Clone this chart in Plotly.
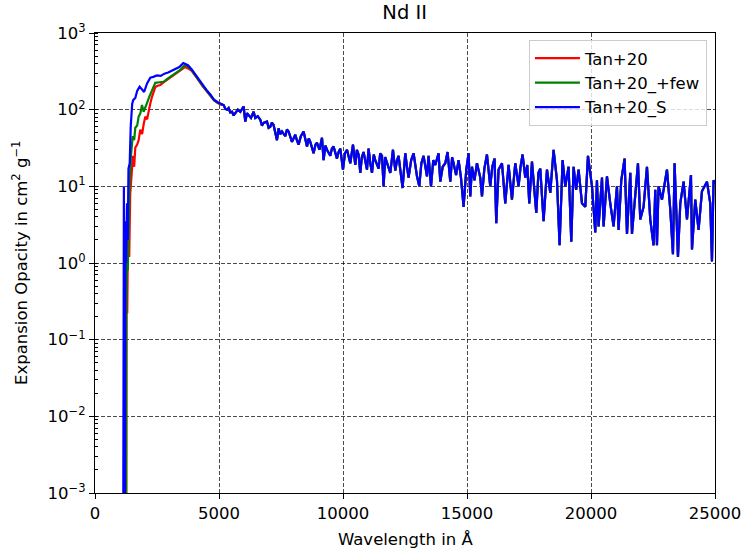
import plotly.graph_objects as go

# ---- data (wavelength in Angstrom, opacity in cm^2/g) ----
red_head_wl = [1180, 1255, 1270, 1300, 1330, 1380, 1420, 1470, 1530, 1580, 1625, 1700, 1760, 1826,
               1900, 1960, 2028, 2100, 2161, 2230, 2298, 2370, 2431, 2530, 2633, 2750, 2903, 3050,
               3200, 3306, 3450, 3560, 3641, 3750, 3900, 4050, 4200, 4350, 4500, 4650, 4800, 4950, 5100]
red_head_val = [1e-5, 1e-5, 0.35, 0.22, 2.7, 1.2, 8, 15, 25, 18, 32, 35, 40, 55,
                48, 64, 81, 75, 100, 120, 147, 175, 197, 205, 210, 225, 245, 265,
                285, 302, 330, 350, 361, 345, 320, 275, 232, 200, 175, 153, 132, 122, 115]

green_head_wl = [1200, 1250, 1265, 1290, 1320, 1350, 1395, 1450, 1520, 1580, 1625, 1700, 1760, 1830,
                 1895, 1960, 2030, 2096, 2200, 2298, 2431, 2600, 2767, 2900, 3036, 3250, 3439, 3560,
                 3641, 3750, 3900, 4050, 4200, 4350, 4500, 4650, 4800, 4950, 5100]
green_head_val = [1e-5, 1e-5, 0.32, 1.4, 0.8, 4, 11, 25, 45, 40, 58, 62, 81, 90,
                  115, 94, 110, 122, 150, 181, 224, 228, 230, 250, 268, 300, 330, 365,
                  383, 365, 327, 280, 236, 203, 178, 155, 133, 123, 116]

blue_head_wl = [1130, 1165, 1195, 1225, 1255, 1290, 1320, 1350, 1400, 1440, 1500, 1545, 1625, 1700,
                1800, 1900, 1980, 2100, 2230, 2350, 2500, 2650, 2800, 2950, 3100, 3250, 3400, 3560,
                3650, 3750, 3900, 4050, 4200, 4350, 4500, 4650, 4800, 4950, 5100]
blue_head_val = [1e-5, 10, 1e-5, 3.5, 1.0, 6, 2, 17, 20, 60, 120, 134, 142, 175,
                 200, 185, 170, 220, 262, 268, 280, 276, 295, 305, 325, 345, 360, 405,
                 395, 380, 335, 285, 240, 205, 180, 158, 135, 125, 118]

# beyond ~5000 A the three curves coincide (blue drawn on top)
tail_wl = [5185, 5260, 5322, 5387, 5450, 5524, 5590, 5657, 5760, 5859, 5992, 6060, 6130, 6193, 6290,
           6395, 6463, 6560, 6665, 6730, 6798, 6935, 7000, 7068, 7130,
           7201, 7338, 7403, 7470, 7540, 7673, 7740, 7806, 7943, 8076, 8140, 8209, 8300, 8411, 8548,
           8620, 8681, 8814, 8890, 8951, 9050, 9153,
           9217, 9290, 9354, 9487, 9550, 9620, 9757, 9820, 9890, 9999,
           10080, 10161, 10294, 10402, 10495, 10560, 10628, 10697, 10760, 10830, 10967, 11032, 11100,
           11169, 11240, 11302, 11435, 11500, 11572,
           11637, 11700, 11774, 11907, 12015, 12108, 12180, 12241, 12403, 12511, 12580, 12644, 12750,
           12846, 12983, 13076, 13160, 13249,
           13386, 13451, 13548, 13640, 13721, 13854, 13923, 14020, 14124, 14217, 14326, 14400, 14459,
           14560, 14661, 14757, 14862,
           14971, 15064,
           15132, 15200, 15300, 15402, 15535, 15604, 15700, 15805, 15938, 16020, 16112, 16180, 16273,
           16410, 16543, 16676,
           16813, 16946, 17080, 17160, 17241, 17350, 17430, 17511, 17620, 17793, 17880, 17954, 18088,
           18225, 18358, 18491,
           18628, 18733, 18854, 18963, 19096, 19205, 19298, 19400, 19499, 19636, 19769, 19878, 20040,
           20172,
           20240, 20306, 20443, 20508, 20644, 20777, 20910, 21047, 21112, 21221, 21354, 21451, 21584,
           21652, 21785, 21894, 21986, 22120, 22257, 22390, 22523, 22591, 22660, 22724, 22862, 23063,
           23196, 23305, 23370, 23507, 23600, 23733, 23870, 24031, 24072, 24204, 24337, 24474, 24676,
           24809, 24878, 24942, 25100]
tail_val = [115, 102, 100, 105, 92, 94, 84, 90, 100, 94, 110, 70, 90, 85, 78,
            94, 78, 82, 74, 62, 67, 70, 58, 60, 68,
            63, 40, 57, 48, 52, 45, 55, 52, 38, 47, 40, 35, 45, 52, 33,
            42, 38, 27, 35, 37, 30, 43,
            22, 34, 30, 25, 31, 33, 23, 28, 31, 16.5,
            27, 30, 20, 35, 19, 30, 26, 15, 24, 28, 16.5, 31, 20,
            15, 26, 22, 17, 27, 25,
            10, 24, 20, 15, 30, 16, 22, 25, 9.5, 27, 18, 13, 22,
            27, 13.5, 10, 20, 25,
            13.5, 25, 10, 22, 19, 27, 11.5, 18, 20, 28, 11.5, 24, 20,
            14, 22, 13, 5.4,
            16.5, 27,
            7.4, 18, 12, 20, 13, 7.4, 17, 26, 10, 18, 23, 3.3, 16.5,
            20, 6.0, 19,
            6.7, 20, 10, 18, 26, 13, 19, 6.0, 21, 4.5, 15, 17, 3.5,
            16.5, 8.2, 30,
            12, 1.7, 22, 10, 18, 1.9, 18, 9, 16.5, 6.0, 5.4, 25, 10,
            2.5,
            12, 3.0, 13, 3.0, 13.5, 6.0, 3.0, 10, 2.7, 12, 23, 2.4, 15,
            2.4, 7.4, 20, 3.7, 5.4, 18, 3.7, 1.7, 9, 1.7, 10, 6.7, 16.5,
            5, 1.3, 20, 1.2, 6.0, 11.5, 3.7, 14, 1.5, 6.7, 2.7, 8.6, 11.5,
            6, 1.05, 12, 10]

series_names = ["Tan+20", "Tan+20_+few", "Tan+20_S"]
series_colors = ["#ff0000", "#008000", "#0000ff"]

y_tickvals = [1e-3, 1e-2, 1e-1, 1e0, 1e1, 1e2, 1e3]
y_ticktext = ["10<sup>\u22123</sup>", "10<sup>\u22122</sup>", "10<sup>\u22121</sup>",
              "10<sup>0</sup>", "10<sup>1</sup>", "10<sup>2</sup>", "10<sup>3</sup>"]
x_tickvals = [0, 5000, 10000, 15000, 20000, 25000]
x_ticktext = ["0", "5000", "10000", "15000", "20000", "25000"]

heads = [(red_head_wl, red_head_val), (green_head_wl, green_head_val), (blue_head_wl, blue_head_val)]

FONT = "DejaVu Sans"
FS = 16.5
fig = go.Figure()
for (hw, hv), name, color in zip(heads, series_names, series_colors):
    fig.add_trace(go.Scatter(
        x=hw + tail_wl, y=hv + tail_val, mode="lines", name=name,
        line=dict(color=color, width=2.2),
    ))

grid = dict(showgrid=True, gridcolor="rgba(0,0,0,0.7)", gridwidth=1, griddash="4px,2px")

fig.update_layout(
    width=743, height=557,
    margin=dict(l=95, r=28, t=33, b=64, autoexpand=False),
    paper_bgcolor="white", plot_bgcolor="white",
    font=dict(family=FONT, size=FS, color="black"),
    title=dict(text="Nd II", x=0.5446, xanchor="center", y=0.978, yanchor="middle",
               font=dict(family=FONT, size=19.5, color="black")),
    showlegend=True,
    legend=dict(x=0.987, y=0.985, xanchor="right", yanchor="top",
                bgcolor="rgba(255,255,255,0.8)", bordercolor="#cccccc", borderwidth=1,
                font=dict(family=FONT, size=FS, color="black"), tracegroupgap=0,
                itemwidth=45),
    xaxis=dict(range=[0, 25000], tickmode="array", tickvals=x_tickvals, ticktext=x_ticktext,
               ticks="outside", ticklen=5, tickwidth=1, tickcolor="black", automargin=False,
               showline=True, linecolor="black", linewidth=1.2, mirror=True,
               zeroline=False, **grid),
    yaxis=dict(type="log", range=[-3, 3], tickmode="array", tickvals=y_tickvals,
               ticktext=y_ticktext, ticks="outside", ticklen=5, tickwidth=1, tickcolor="black",
               showline=True, linecolor="black", linewidth=1.2, mirror=True,
               zeroline=False, automargin=False,
               minor=dict(ticks="inside", ticklen=3, tickcolor="black", dtick="D1", showgrid=False),
               **grid),
    annotations=[
        dict(text="Wavelength in \u00c5", xref="paper", yref="paper", x=0.5, y=0,
             yshift=-46, xanchor="center", yanchor="middle", showarrow=False,
             font=dict(family=FONT, size=FS, color="black")),
        dict(text="Expansion Opacity in cm<sup>2</sup> g<sup>\u22121</sup>", xref="paper",
             yref="paper", x=0, y=0.5, xshift=-75, xanchor="center", yanchor="middle",
             textangle=-90, showarrow=False, font=dict(family=FONT, size=FS, color="black")),
    ],
)

# the browser's default 8px body margin would shift the figure; remove it
fig.write_html("out.html", config={"displayModeBar": False},
               post_script="document.body.style.margin='0px';")
